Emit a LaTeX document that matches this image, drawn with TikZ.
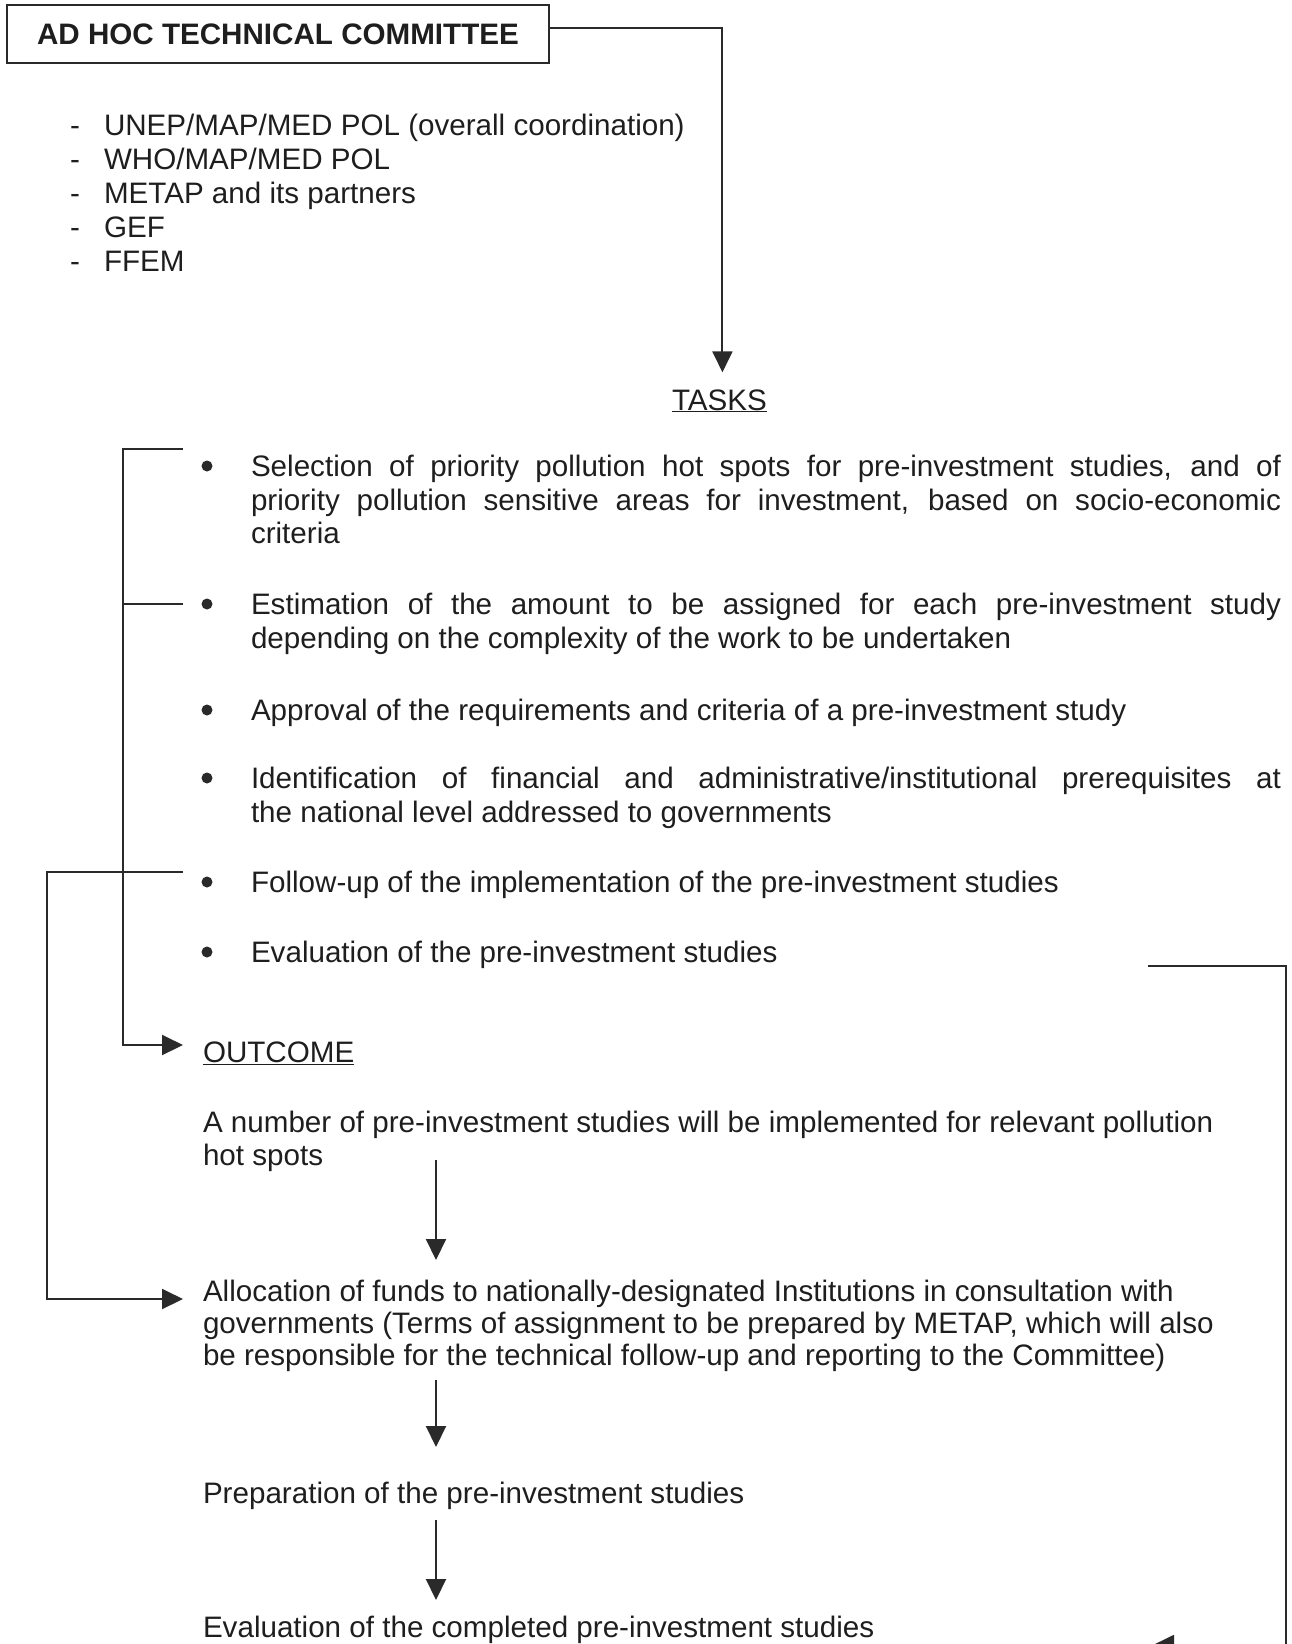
\documentclass[tikz,border=0pt]{standalone}
\usepackage{fontspec}
\setmainfont{Liberation Sans}
\usetikzlibrary{arrows.meta}
\definecolor{ink}{HTML}{1E1E1E}
\definecolor{lin}{HTML}{2A2A2A}
\newcommand{\jline}[1]{\makebox[1030pt][s]{#1}}
\begin{document}
\begin{tikzpicture}[x=1pt,y=-1pt,
  every node/.style={inner sep=0pt, outer sep=0pt, text=ink,
    font=\fontsize{29.6pt}{33.5pt}\selectfont},
  ln/.style={draw=lin, line width=2pt},
  arr/.style={ln, -{Triangle[length=21pt,width=20pt]}},
  txt/.style={anchor=base west},
  bul/.style={circle, fill=lin, minimum size=11pt, inner sep=0pt}
]
\useasboundingbox (0,0) rectangle (1291,1644);
\clip (0,0) rectangle (1291,1644);

% title box
\node[draw=lin, line width=2pt, minimum width=542pt, minimum height=58pt,
      anchor=north west, font=\fontsize{29.6pt}{33.5pt}\selectfont\bfseries]
      (ahtc) at (7,5) {AD HOC TECHNICAL COMMITTEE};

% members list
\node[txt] (d1) at (70,135) {-}; \node[txt] (m1) at (104,135) {UNEP/MAP/MED POL (overall coordination)};
\node[txt] (d2) at (70,169) {-}; \node[txt] (m2) at (104,169) {WHO/MAP/MED POL};
\node[txt] (d3) at (70,203) {-}; \node[txt] (m3) at (104,203) {METAP and its partners};
\node[txt] (d4) at (70,237) {-}; \node[txt] (m4) at (104,237) {GEF};
\node[txt] (d5) at (70,271) {-}; \node[txt] (m5) at (104,271) {FFEM};

% tasks
\node[txt] (tasks) at (672,410) {\underline{TASKS}};

\node[bul] (b1) at (207,466) {};
\node[txt] (sel1) at (251,476) {\jline{Selection of priority pollution hot spots for pre-investment studies, and of}};
\node[txt] (sel2) at (251,510) {\jline{priority pollution sensitive areas for investment, based on socio-economic}};
\node[txt] (sel3) at (251,543) {criteria};

\node[bul] (b2) at (207,604) {};
\node[txt] (est1) at (251,614) {\jline{Estimation of the amount to be assigned for each pre-investment study}};
\node[txt] (est2) at (251,648) {depending on the complexity of the work to be undertaken};

\node[bul] (b3) at (207,710) {};
\node[txt] (app1) at (251,720) {Approval of the requirements and criteria of a pre-investment study};

\node[bul] (b4) at (207,778) {};
\node[txt] (ide1) at (251,788) {\jline{Identification of financial and administrative/institutional prerequisites at}};
\node[txt] (ide2) at (251,822) {the national level addressed to governments};

\node[bul] (b5) at (207,882) {};
\node[txt] (fol1) at (251,892) {Follow-up of the implementation of the pre-investment studies};

\node[bul] (b6) at (207,952) {};
\node[txt] (eva1) at (251,962) {Evaluation of the pre-investment studies};

% outcome
\node[txt] (outcome) at (203,1062) {\underline{OUTCOME}};
\node[txt] (num1) at (203,1132) {A number of pre-investment studies will be implemented for relevant pollution};
\node[txt] (num2) at (203,1165) {hot spots};
\node[txt] (all1) at (203,1301) {Allocation of funds to nationally-designated Institutions in consultation with};
\node[txt] (all2) at (203,1333) {governments (Terms of assignment to be prepared by METAP, which will also};
\node[txt] (all3) at (203,1365) {be responsible for the technical follow-up and reporting to the Committee)};
\node[txt] (prep) at (203,1503) {Preparation of the pre-investment studies};
\node[txt] (evc) at (203,1637) {Evaluation of the completed pre-investment studies};

% connector coordinates
\coordinate (selhook) at (183,449);
\coordinate (esthook) at (183,604);
\coordinate (folhook) at (183,872);
\coordinate (evahook) at (1148,966);
\coordinate (rcorner) at (1286,966);
\coordinate (rbottom) at (1286,1645);
\coordinate (lasttip) at (1153,1645);
\coordinate (a1s) at (436,1160); \coordinate (a1e) at (436,1260);
\coordinate (a2s) at (436,1380); \coordinate (a2e) at (436,1447);
\coordinate (a3s) at (436,1520); \coordinate (a3e) at (436,1600);

% connectors
\draw[arr] ([yshift=6pt]ahtc.east) -| ([xshift=3pt,yshift=17pt]tasks.north);
\draw[arr] (selhook) -- ++(-60,0) |- ([shift={(-20pt,17pt)}]outcome.base west);
\draw[ln] (esthook) -- ++(-60,0);
\draw[arr] (folhook) -- ++(-136,0) |- ([shift={(-20pt,2pt)}]all1.base west);
\draw[arr] (a1s) -- (a1e);
\draw[arr] (a2s) -- (a2e);
\draw[arr] (a3s) -- (a3e);
\draw[arr] (evahook) -- (rcorner) -- (rbottom) -- (lasttip);
\end{tikzpicture}
\end{document}
